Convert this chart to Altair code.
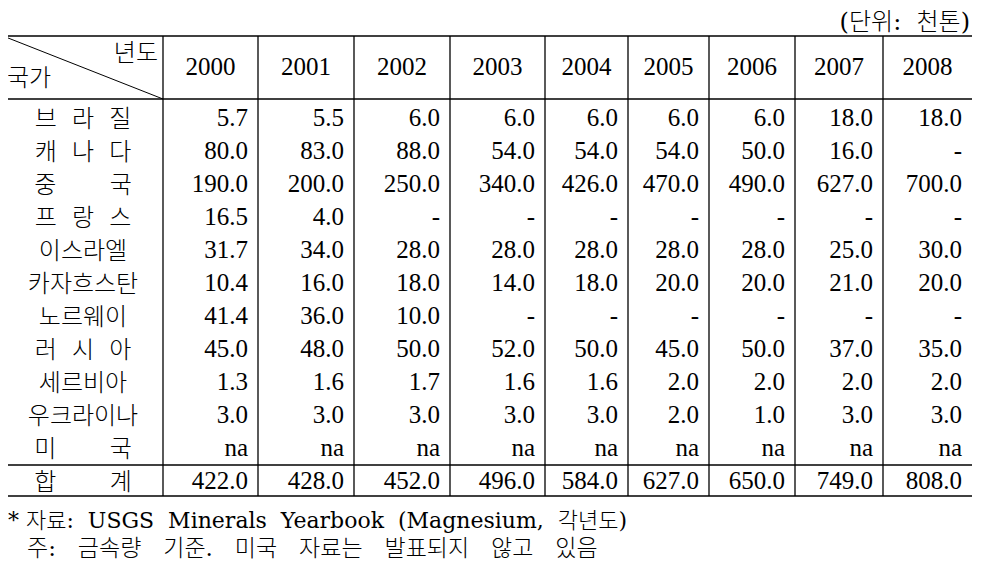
import altair as alt
import pandas as pd

# ---------------- data ----------------
years = ["2000", "2001", "2002", "2003", "2004", "2005", "2006", "2007", "2008"]
countries = ["브라질", "캐나다", "중국", "프랑스", "이스라엘", "카자흐스탄",
             "노르웨이", "러시아", "세르비아", "우크라이나", "미국"]
brazil     = ["5.7", "5.5", "6.0", "6.0", "6.0", "6.0", "6.0", "18.0", "18.0"]
canada     = ["80.0", "83.0", "88.0", "54.0", "54.0", "54.0", "50.0", "16.0", "-"]
china      = ["190.0", "200.0", "250.0", "340.0", "426.0", "470.0", "490.0", "627.0", "700.0"]
france     = ["16.5", "4.0", "-", "-", "-", "-", "-", "-", "-"]
israel     = ["31.7", "34.0", "28.0", "28.0", "28.0", "28.0", "28.0", "25.0", "30.0"]
kazakhstan = ["10.4", "16.0", "18.0", "14.0", "18.0", "20.0", "20.0", "21.0", "20.0"]
norway     = ["41.4", "36.0", "10.0", "-", "-", "-", "-", "-", "-"]
russia     = ["45.0", "48.0", "50.0", "52.0", "50.0", "45.0", "50.0", "37.0", "35.0"]
serbia     = ["1.3", "1.6", "1.7", "1.6", "1.6", "2.0", "2.0", "2.0", "2.0"]
ukraine    = ["3.0", "3.0", "3.0", "3.0", "3.0", "2.0", "1.0", "3.0", "3.0"]
usa        = ["na", "na", "na", "na", "na", "na", "na", "na", "na"]
total_label = "합계"
total      = ["422.0", "428.0", "452.0", "496.0", "584.0", "627.0", "650.0", "749.0", "808.0"]
rows = [brazil, canada, china, france, israel, kazakhstan, norway, russia, serbia, ukraine, usa]

header_year = "년도"
header_country = "국가"
unit_text = "(단위: 천톤)"
source_note = "자료: USGS Minerals Yearbook (Magnesium, 각년도)"
remark_note = "주: 금속량 기준. 미국 자료는 발표되지 않고 있음"

# ---------------- layout (pixels of the page) ----------------
W, H = 976, 556
X0, Y0 = 8, 8
col_edges = [3, 163, 258, 354, 450, 545, 628, 709, 795, 883, 972]
line_top, line_head, line_total, line_bottom = 36, 99, 465, 496
row_c0, row_step, total_c = 118, 33, 481
year_c = 67
NUM_FONT = "Liberation Serif, Noto Sans CJK KR"
KOR_FONT = "DejaVu Serif, Noto Sans CJK KR"
NUM_SIZE = 25
KOR_SIZE = 24
NB = "\u00a0"


def spaced(name):
    if len(name) == 2:
        return (NB * 7).join(name)
    if len(name) == 3:
        return (NB * 2).join(name)
    return name


def widen(s, n):
    return s.replace(" ", NB * n)


xs = alt.Scale(domain=[X0, X0 + W], range=[0, W], nice=False, zero=False)
ys = alt.Scale(domain=[Y0, Y0 + H], range=[0, H], nice=False, zero=False)

# cell values
cells = []
for i, vals in enumerate(rows + [total]):
    yc = row_c0 + row_step * i if i < len(rows) else total_c
    for j, v in enumerate(vals):
        cells.append({"x": col_edges[j + 2] - 10, "y": yc + 8, "t": v})
cells_df = pd.DataFrame(cells)

years_df = pd.DataFrame({
    "x": [(col_edges[j + 1] + col_edges[j + 2]) / 2 for j in range(len(years))],
    "y": [year_c + 8] * len(years),
    "t": years,
})

labels = [spaced(c) for c in countries] + [spaced(total_label)]
labels_df = pd.DataFrame({
    "x": [(col_edges[0] + col_edges[1]) / 2] * len(labels),
    "y": [(row_c0 + row_step * i if i < len(countries) else total_c) + 9 for i in range(len(labels))],
    "t": labels,
})


def text_layer(df, align, size, font, weight="normal"):
    return alt.Chart(df).mark_text(
        align=align, baseline="alphabetic", fontSize=size, font=font,
        color="black", fontWeight=weight,
    ).encode(
        x=alt.X("x:Q", scale=xs, axis=None),
        y=alt.Y("y:Q", scale=ys, axis=None),
        text="t:N",
    )


hdr_r = pd.DataFrame({"x": [158], "y": [52 + 9], "t": [header_year]})
hdr_l = pd.DataFrame({"x": [7], "y": [77 + 9], "t": [header_country]})
unit_df = pd.DataFrame({"x": [970], "y": [30], "t": [widen(unit_text, 2)]})
foot1_df = pd.DataFrame({"x": [8], "y": [520 + 8], "t": ["* " + widen(source_note, 2)]})
foot2_df = pd.DataFrame({"x": [27], "y": [548 + 8], "t": [widen(remark_note, 3)]})

# lines
hl = pd.DataFrame({"x": [col_edges[0]] * 4, "x2": [col_edges[-1]] * 4,
                   "y": [line_top, line_head, line_total, line_bottom],
                   "y2": [line_top, line_head, line_total, line_bottom]})
vl = pd.DataFrame({"x": col_edges[1:-1], "x2": col_edges[1:-1],
                   "y": [line_top] * 9, "y2": [line_bottom] * 9})
dg = pd.DataFrame({"x": [col_edges[0]], "x2": [col_edges[1]], "y": [line_top], "y2": [line_head]})


def rule_layer(df, sw):
    return alt.Chart(df).mark_rule(color="black", strokeWidth=sw).encode(
        x=alt.X("x:Q", scale=xs, axis=None),
        x2="x2:Q",
        y=alt.Y("y:Q", scale=ys, axis=None),
        y2="y2:Q",
    )


chart = alt.layer(
    rule_layer(hl, 1.6),
    rule_layer(vl, 1.3),
    rule_layer(dg, 1.0),
    text_layer(cells_df, "right", NUM_SIZE, NUM_FONT),
    text_layer(years_df, "center", NUM_SIZE, NUM_FONT),
    text_layer(labels_df, "center", KOR_SIZE, KOR_FONT, 300),
    text_layer(hdr_r, "right", KOR_SIZE, KOR_FONT, 300),
    text_layer(hdr_l, "left", KOR_SIZE, KOR_FONT, 300),
    text_layer(unit_df, "right", 24, KOR_FONT, 300),
    text_layer(foot1_df, "left", 22, KOR_FONT, 300),
    text_layer(foot2_df, "left", 23, KOR_FONT, 300),
).properties(
    width=W, height=H, padding=0, autosize=alt.AutoSizeParams(type="none"),
    background="white",
).configure_view(stroke=None)

chart.save("out.html", embed_options={"renderer": "svg", "actions": False})
